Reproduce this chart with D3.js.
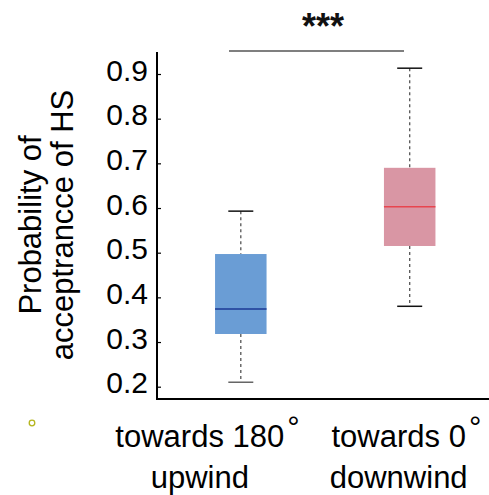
<!DOCTYPE html>
<html><head><meta charset="utf-8">
<script src="https://cdn.jsdelivr.net/npm/d3@7"></script>
<style>body{margin:0;background:#fff}svg{display:block}text{font-family:"Liberation Sans",Arial,sans-serif}</style>
</head><body>
<script>
const categories = ["towards 180", "towards 0"];
const subLabels = ["upwind", "downwind"];
const whiskerLow = [0.21, 0.38];
const q1 = [0.318, 0.515];
const median = [0.374, 0.603];
const q3 = [0.497, 0.69];
const whiskerHigh = [0.593, 0.913];
const yTicks = [0.2, 0.3, 0.4, 0.5, 0.6, 0.7, 0.8, 0.9];
const significance = "***";

const fills = ["#6a9dd5", "#d996a4"];
const medColors = ["#1d3a94", "#e8454f"];
const labelShift = [-41, -11];

const W = 489, H = 495;
const svg = d3.select("body").append("svg").attr("width", W).attr("height", H);

const y = d3.scaleLinear().domain([0.2, 0.9]).range([386.7, 74]);
const x = d3.scalePoint().domain(categories).range([240.8, 409.7]);
const axisX = 157, axisBottom = 399, axisTop = 52;

// Axes lines
svg.append("line").attr("x1", axisX).attr("x2", axisX).attr("y1", axisTop).attr("y2", axisBottom + 1)
  .attr("stroke", "#000").attr("stroke-width", 2);
svg.append("line").attr("x1", axisX - 1).attr("x2", W).attr("y1", axisBottom).attr("y2", axisBottom)
  .attr("stroke", "#000").attr("stroke-width", 2);

// Y axis ticks (inward) + labels
const yAxis = d3.axisLeft(y).tickValues(yTicks).tickSizeInner(-4).tickSizeOuter(0)
  .tickFormat(d3.format(".1f")).tickPadding(13);
const gy = svg.append("g").attr("transform", `translate(${axisX},0)`).call(yAxis);
gy.select(".domain").remove();
gy.selectAll(".tick line").attr("stroke", "#000").attr("stroke-width", 1.2);
gy.selectAll(".tick text").attr("font-size", 30).attr("fill", "#000")
  .attr("font-family", "'Liberation Sans',Arial,sans-serif").attr("dy", "0.2em").attr("x", -9);

// Boxes
const bw = 51.5, capW = 25;
categories.forEach((c, i) => {
  const cx = x(c);
  const g = svg.append("g");
  g.append("line").attr("x1", cx).attr("x2", cx).attr("y1", y(whiskerHigh[i])).attr("y2", y(q3[i]))
    .attr("stroke", "#555").attr("stroke-width", 1.3).attr("stroke-dasharray", "3,3");
  g.append("line").attr("x1", cx).attr("x2", cx).attr("y1", y(q1[i])).attr("y2", y(whiskerLow[i]))
    .attr("stroke", "#555").attr("stroke-width", 1.3).attr("stroke-dasharray", "3,3");
  g.append("line").attr("x1", cx - capW / 2).attr("x2", cx + capW / 2).attr("y1", y(whiskerHigh[i])).attr("y2", y(whiskerHigh[i]))
    .attr("stroke", "#111").attr("stroke-width", 1.5);
  g.append("line").attr("x1", cx - capW / 2).attr("x2", cx + capW / 2).attr("y1", y(whiskerLow[i])).attr("y2", y(whiskerLow[i]))
    .attr("stroke", i === 0 ? "#666" : "#111").attr("stroke-width", 1.5);
  g.append("rect").attr("x", cx - bw / 2).attr("width", bw).attr("y", y(q3[i])).attr("height", y(q1[i]) - y(q3[i]))
    .attr("fill", fills[i]);
  g.append("line").attr("x1", cx - bw / 2).attr("x2", cx + bw / 2).attr("y1", y(median[i])).attr("y2", y(median[i]))
    .attr("stroke", medColors[i]).attr("stroke-width", 1.5);
});

// Significance
svg.append("line").attr("x1", 229).attr("x2", 404).attr("y1", 51).attr("y2", 51)
  .attr("stroke", "#555").attr("stroke-width", 1.5);
svg.append("text").attr("x", 323).attr("y", 39).attr("text-anchor", "middle")
  .attr("font-size", 36).attr("font-weight", "bold").attr("fill", "#111").text(significance);

// X labels
categories.forEach((c, i) => {
  const lx = x(c) + labelShift[i];
  const t = svg.append("text").attr("x", lx).attr("y", 446.5).attr("font-size", 31).attr("fill", "#000");
  t.append("tspan").text(c);
  const w = t.node().getComputedTextLength();
  t.attr("x", lx - w / 2);
  t.append("tspan").attr("dx", 3).attr("dy", -9).attr("font-size", 31).text("°");
  svg.append("text").attr("x", lx).attr("y", 487.5).attr("text-anchor", "middle")
    .attr("font-size", 31).attr("fill", "#000").text(subLabels[i]);
});

// Y label
const yl = svg.append("text").attr("transform", "translate(41,225) rotate(-90)")
  .attr("text-anchor", "middle").attr("font-size", 31).attr("fill", "#000");
yl.append("tspan").attr("x", 0).attr("y", 0).text("Probability of");
yl.append("tspan").attr("x", 0).attr("y", 32).text("acceptrancce of HS");

// small marker
svg.append("circle").attr("cx", 32).attr("cy", 423).attr("r", 2.8)
  .attr("fill", "none").attr("stroke", "#b5b51e").attr("stroke-width", 1.3);
</script>
</body></html>
